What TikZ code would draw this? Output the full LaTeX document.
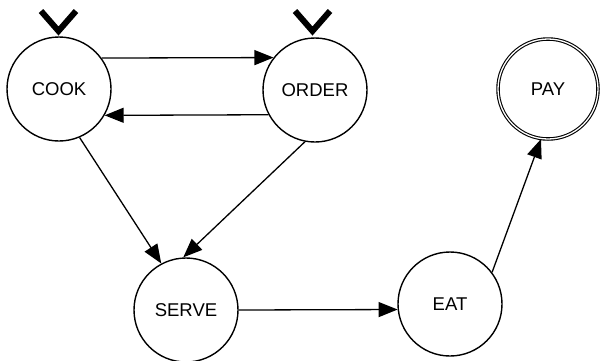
\documentclass[tikz,border=0pt]{standalone}
\usepackage{fontspec}
\setmainfont{Liberation Sans}
\usetikzlibrary{arrows.meta}
\begin{document}
\begin{tikzpicture}[x=1pt,y=-1pt,
  state/.style={circle,draw,line width=1.4pt,minimum size=104pt,inner sep=0pt,font=\fontsize{18.5}{18.5}\selectfont},
  final/.style={state,double,double distance=1.3pt,line width=1.1pt,minimum size=100pt},
  edge/.style={line width=1.3pt,-{Triangle[length=19pt,width=15pt]}},
  startmark/.style={line width=6pt,line join=miter}]
\useasboundingbox (0,0) rectangle (601,360);
\node[state] (cook) at (59,89) {COOK};
\node[state] (order) at (315,90) {ORDER};
\node[final] (pay) at (548,89) {PAY};
\node[state] (serve) at (186,310) {SERVE};
\node[state] (eat) at (450,304) {EAT};
% initial markers
\coordinate (c1) at (41,11); \coordinate (c2) at (76,11);
\coordinate (o1) at (295,11); \coordinate (o2) at (330,11);
\coordinate (ct) at (58.5,31); \coordinate (ot) at (312.5,31);
\draw[startmark] (c1) -- (ct) -- (c2);
\draw[startmark] (o1) -- (ot) -- (o2);
% edges
\draw[edge] (cook.36.6) -- (order.142);
\draw[edge] (order.208.7) -- (cook.-30);
\draw[edge] (cook.-67) -- (serve.118);
\draw[edge] (order.-101) -- (serve.93);
\draw[edge] (serve.east) -- (eat.186.6);
\draw[edge] (eat.37) -- (pay.-98);
\end{tikzpicture}
\end{document}
